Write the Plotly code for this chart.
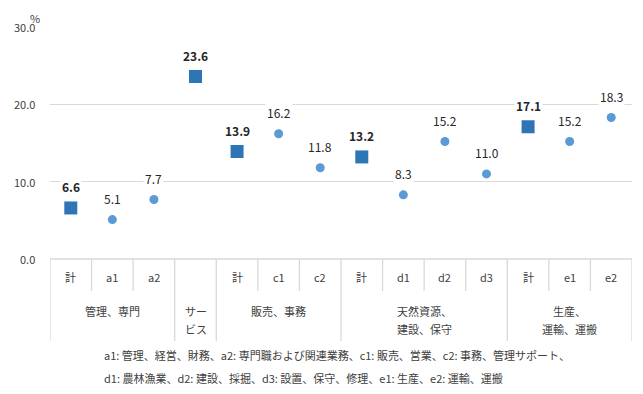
import plotly.graph_objects as go

cat_labels = ["計", "a1", "a2", "", "計", "c1", "c2", "計", "d1", "d2", "d3", "計", "e1", "e2"]
values = [6.6, 5.1, 7.7, 23.6, 13.9, 16.2, 11.8, 13.2, 8.3, 15.2, 11.0, 17.1, 15.2, 18.3]
is_total = [True, False, False, True, True, False, False, True, False, False, False, True, False, False]
group_names = [["管理、専門"], ["サー", "ビス"], ["販売、事務"], ["天然資源、", "建設、保守"], ["生産、", "運輸、運搬"]]
group_spans = [(0, 2), (3, 3), (4, 6), (7, 10), (11, 13)]
footnotes = [
    "a1: 管理、経営、財務、a2: 専門職および関連業務、c1: 販売、営業、c2: 事務、管理サポート、",
    "d1: 農林漁業、d2: 建設、採掘、d3: 設置、保守、修理、e1: 生産、e2: 運輸、運搬",
]
y_ticks = [0, 10, 20, 30]

FONT = "Noto Sans CJK JP, Meiryo, sans-serif"
DARK = "#2E75B6"
LIGHT = "#5B9BD5"
LINE = "#D9D9D9"
TXT = "#404040"

W, HT = 643, 394
L, R, T, B = 50, 11, 27, 135
PW = W - L - R
PH = HT - T - B

def px_x(p):  # pixel x -> paper x
    return (p - L) / PW

def px_y(p):  # pixel y -> paper y
    return (HT - B - p) / PH

n = len(values)
xs = list(range(n))
tot_x = [x for x, t in zip(xs, is_total) if t]
tot_y = [v for v, t in zip(values, is_total) if t]
sub_x = [x for x, t in zip(xs, is_total) if not t]
sub_y = [v for v, t in zip(values, is_total) if not t]

fig = go.Figure()
fig.add_trace(go.Scatter(x=tot_x, y=tot_y, mode="markers",
                         marker=dict(symbol="square", size=13, color=DARK), hoverinfo="skip"))
fig.add_trace(go.Scatter(x=sub_x, y=sub_y, mode="markers",
                         marker=dict(symbol="circle", size=9, color=LIGHT), hoverinfo="skip"))

ann = []
for x, v, t in zip(xs, values, is_total):
    ann.append(dict(x=x, y=v, xref="x", yref="y", text=(f"<b>{v:.1f}</b>" if t else f"{v:.1f}"),
                    showarrow=False, yshift=21, bgcolor="white", borderpad=1,
                    font=dict(family=FONT, size=12, color="#262626")))

shapes = []
shapes.append(dict(type="line", xref="x", yref="paper", x0=-0.5, x1=n - 0.5, y0=0, y1=0,
                   line=dict(color=LINE, width=1.3)))
group_edges = set()
for a, b in group_spans:
    group_edges.add(a - 0.5)
    group_edges.add(b + 0.5)
for i in range(n + 1):
    xe = i - 0.5
    full = xe in group_edges
    shapes.append(dict(type="line", xref="x", yref="paper", x0=xe, x1=xe, y0=0,
                       y1=px_y(341) if full else px_y(291), line=dict(color=LINE, width=1.3)))

for x, lab in zip(xs, cat_labels):
    if lab:
        ann.append(dict(x=x, y=px_y(277), xref="x", yref="paper", text=lab, showarrow=False,
                        yanchor="middle", font=dict(family=FONT, size=11, color=TXT)))
for lines, (a, b) in zip(group_names, group_spans):
    for k, line in enumerate(lines):
        ann.append(dict(x=(a + b) / 2, y=px_y(311 + 18 * k), xref="x", yref="paper", text=line,
                        showarrow=False, yanchor="middle", font=dict(family=FONT, size=11, color=TXT)))

for k, line in enumerate(footnotes):
    ann.append(dict(x=px_x(102), y=px_y(355 + 23 * k), xref="paper", yref="paper", text=line,
                    showarrow=False, xanchor="left", yanchor="middle",
                    font=dict(family=FONT, size=11, color=TXT)))
for t in y_ticks:
    ann.append(dict(x=px_x(37), y=t, xref="paper", yref="y", text=f"{t:.1f}", showarrow=False,
                    xanchor="right", yanchor="middle", font=dict(family=FONT, size=11, color=TXT)))
ann.append(dict(x=px_x(35), y=px_y(18), xref="paper", yref="paper", text="%", showarrow=False,
                xanchor="center", yanchor="middle", font=dict(family=FONT, size=11, color=TXT)))

fig.update_layout(
    width=W, height=HT,
    margin=dict(l=L, r=R, t=T, b=B),
    plot_bgcolor="white", paper_bgcolor="white",
    showlegend=False,
    xaxis=dict(range=[-0.5, n - 0.5], showgrid=False, zeroline=False, showticklabels=False,
               showline=False, fixedrange=True),
    yaxis=dict(range=[0, 30], tickvals=y_ticks, showticklabels=False, showgrid=True,
               gridcolor=LINE, gridwidth=1.3, zeroline=False, showline=False, fixedrange=True),
    annotations=ann, shapes=shapes,
)
fig.write_html("out.html")
